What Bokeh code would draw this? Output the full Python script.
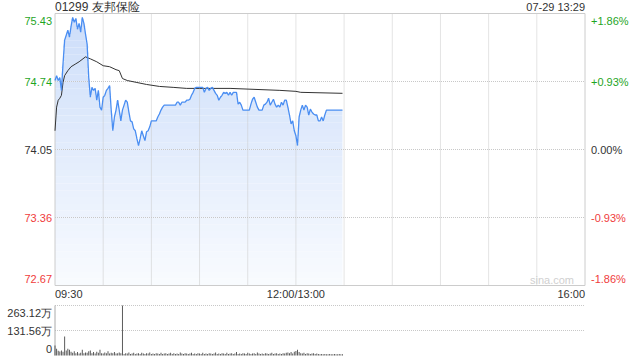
import numpy as np
from bokeh.plotting import figure
from bokeh.models import Range1d, LinearAxis, Label
from bokeh.embed import file_html
from bokeh.resources import INLINE

# ---------------- data ----------------
title_text = "01299 友邦保险"
stamp_text = "07-29 13:29"
prev_close = 74.05
price_ticks = [72.67, 73.36, 74.05, 74.74, 75.43]
session_minutes = 330
time_tick_minutes = [0, 150, 330]
time_tick_labels = ["09:30", "12:00/13:00", "16:00"]
grid_minutes = [30, 60, 90, 120, 150, 180, 210, 240, 270, 300]
vol_ticks = [0, 131.56, 263.12]
vol_labels = ["0", "131.56万", "263.12万"]

# one price per minute from 09:30 (index = session minute, 150 = 13:00)
price = [
    74.75, 74.80, 74.75, 74.78, 74.65, 74.92, 75.16, 75.21, 75.26, 75.19,
    75.30, 75.39, 75.34, 75.38, 75.27, 75.33, 75.24, 75.39, 75.33, 75.22,
    75.12, 74.78, 74.58, 74.68, 74.65, 74.67, 74.55, 74.65, 74.48, 74.45,
    74.58, 74.60, 74.65, 74.67, 74.70, 74.45, 74.24, 74.38, 74.45, 74.55,
    74.45, 74.34, 74.45, 74.50, 74.55, 74.53, 74.43, 74.34, 74.33, 74.26,
    74.24, 74.16, 74.09, 74.16, 74.24, 74.19, 74.14, 74.23, 74.24, 74.28,
    74.34, 74.34, 74.34, 74.34, 74.38, 74.41, 74.45, 74.48, 74.50, 74.50,
    74.50, 74.50, 74.50, 74.50, 74.50, 74.50, 74.53, 74.53, 74.50, 74.53,
    74.53, 74.53, 74.55, 74.55, 74.56, 74.60, 74.63, 74.67, 74.68, 74.68,
    74.68, 74.68, 74.68, 74.63, 74.67, 74.68, 74.65, 74.67, 74.68, 74.65,
    74.62, 74.60, 74.55, 74.58, 74.60, 74.63, 74.62, 74.63, 74.60, 74.63,
    74.60, 74.63, 74.63, 74.63, 74.51, 74.53, 74.50, 74.45, 74.45, 74.45,
    74.45, 74.45, 74.51, 74.56, 74.58, 74.53, 74.48, 74.45, 74.45, 74.45,
    74.50, 74.51, 74.53, 74.57, 74.50, 74.53, 74.56, 74.51, 74.48, 74.50,
    74.48, 74.53, 74.50, 74.55, 74.55, 74.48, 74.40, 74.31, 74.34, 74.24,
    74.19, 74.09, 74.38, 74.45, 74.50, 74.45, 74.50, 74.48, 74.40, 74.46,
    74.43, 74.41, 74.40, 74.40, 74.34, 74.34, 74.38, 74.34, 74.40, 74.45,
    74.45, 74.45, 74.45, 74.45, 74.45, 74.45, 74.45, 74.45, 74.45, 74.45,
]

# average-price line, read at its vertices
avg_minutes = [0, 1, 2, 3, 4, 5, 6, 8, 10, 13, 15, 19, 22, 26, 30, 34, 38, 40,
               42, 45, 51, 57, 65, 74, 82, 90, 109, 140, 150, 153, 179]
avg_values = [74.24, 74.48, 74.55, 74.57, 74.60, 74.73, 74.80, 74.85, 74.89,
              74.92, 74.94, 74.99, 74.97, 74.94, 74.90, 74.89, 74.86, 74.85,
              74.77, 74.75, 74.73, 74.71, 74.69, 74.68, 74.67, 74.67, 74.67,
              74.65, 74.64, 74.63, 74.62]

# volume per minute, in 万
volume = [
    52, 35, 25, 21, 26, 20, 100, 26, 35, 30,
    20, 15, 22, 12, 18, 10, 14, 30, 12, 16,
    14, 22, 26, 12, 18, 10, 20, 14, 30, 12,
    10, 16, 12, 22, 10, 14, 12, 18, 10, 12,
    16, 12, 263.12, 8, 12, 10, 16, 8, 10, 14,
    8, 10, 12, 8, 14, 10, 8, 12, 10, 16,
    8, 10, 8, 12, 10, 8, 14, 8, 10, 12,
    8, 10, 14, 8, 12, 8, 10, 8, 16, 10,
    8, 12, 10, 8, 10, 14, 8, 10, 8, 12,
    10, 8, 14, 8, 10, 8, 12, 10, 8, 10,
    16, 8, 10, 8, 12, 10, 8, 14, 8, 10,
    12, 8, 10, 18, 8, 10, 8, 12, 10, 8,
    14, 10, 8, 10, 12, 8, 16, 10, 8, 10,
    8, 12, 10, 8, 10, 14, 8, 10, 12, 8,
    10, 8, 12, 10, 14, 16, 12, 18, 10, 20,
    24, 30, 18, 12, 10, 14, 8, 12, 10, 8,
    10, 12, 8, 10, 8, 6, 8, 6, 8, 6,
    6, 8, 6, 6, 8, 6, 6, 8, 6, 6,
]

# ---------------- layout (pixels) ----------------
W, H = 640, 360
PX_L, PX_R = 54.5, 584.5          # plot left / right edge
PY_T, PY_B = 13.0, 285.0          # price panel top / bottom (from top)
VY_T, VY_B = 305.0, 355.0         # volume panel top / bottom (from top)

FONT = "Liberation Sans"
GREEN = "#1fa51f"
RED = "#f03c3c"
DARK = "#333333"
GRID = "#c8c8c8"
BORDER = "#cccccc"

lo, hi = price_ticks[0], price_ticks[-1]
vmax = vol_ticks[-1]

# linear maps so that the whole canvas is the frame
xs = session_minutes / (PX_R - PX_L)          # minutes per pixel
x0 = -PX_L * xs
x1 = session_minutes + (W - PX_R) * xs
ys = (hi - lo) / (PY_B - PY_T)                # price per pixel
y_top = hi + PY_T * ys
y_bot = lo - (H - PY_B) * ys
vs = vmax / (VY_B - VY_T)                     # volume per pixel
v_top = vmax + VY_T * vs
v_bot = -(H - VY_B) * vs

p = figure(width=W, height=H, output_backend="svg", toolbar_location=None,
           x_range=Range1d(x0, x1), y_range=Range1d(y_bot, y_top), title=None,
           min_border=0)
p.extra_y_ranges = {"vol": Range1d(v_bot, v_top)}
p.xaxis.visible = False
p.yaxis.visible = False
p.grid.visible = False
p.outline_line_color = None

minutes = np.arange(len(price))
price_arr = np.array(price)

# gradient-like area fill built from horizontal bands
top_c = np.array([205, 222, 250])
bot_c = np.array([250, 252, 255])
nb = 40
edges = np.linspace(lo, hi, nb + 1)
for k in range(nb):
    b0, b1 = edges[k], edges[k + 1]
    t = (b1 - lo) / (hi - lo)
    c = (bot_c + (top_c - bot_c) * t).astype(int)
    col = "#%02x%02x%02x" % tuple(c)
    y1 = np.clip(price_arr, b0, b1)
    p.varea(x=minutes, y1=y1, y2=np.full_like(y1, b0), fill_color=col)

# grid lines (dotted)
inner = price_ticks[1:-1]
p.segment(x0=[0] * len(inner), x1=[session_minutes] * len(inner), y0=inner, y1=inner,
          line_color=GRID, line_dash="1 1", line_width=1)
p.segment(x0=grid_minutes, x1=grid_minutes, y0=[lo] * len(grid_minutes),
          y1=[hi] * len(grid_minutes), line_color=GRID, line_dash="1 1", line_width=1)
# border of the price panel
p.quad(left=[0], right=[session_minutes], bottom=[lo], top=[hi], fill_color=None,
       line_color=BORDER, line_width=1)

p.line(avg_minutes, avg_values, line_color="#333333", line_width=1)
p.line(minutes, price, line_color="#4a8ef2", line_width=1.3)

# volume panel
vg = vol_ticks[1:]
p.segment(x0=[0] * len(vg), x1=[session_minutes] * len(vg), y0=vg, y1=vg,
          line_color=GRID, line_dash="1 1", line_width=1, y_range_name="vol")
p.segment(x0=[0], x1=[0], y0=[0], y1=[vmax], line_color="#aaaaaa", line_width=1,
          y_range_name="vol")
p.vbar(x=minutes, top=volume, bottom=0, width=0.6, fill_color="#555555",
       line_color=None, y_range_name="vol")

def col_for(v):
    if abs(v - prev_close) < 1e-9:
        return DARK
    return GREEN if v > prev_close else RED

EDGE = 7  # px: edge labels are pulled inside the panel
n = len(price_ticks)
for i, v in enumerate(price_ticks):
    off = 0
    if i == 0:
        off = EDGE
    elif i == n - 1:
        off = -EDGE
    yy = v + off * ys
    pct = (v - prev_close) / prev_close * 100
    if abs(pct) < 1e-6:
        pct_txt = "0.00%"
    else:
        pct_txt = ("+" if pct > 0 else "") + ("%.2f%%" % pct)
    p.add_layout(Label(x=-3 * xs, y=yy, text="%.2f" % v,
                       text_align="right", text_baseline="middle",
                       text_font=FONT, text_font_size="11px", text_color=col_for(v)))
    p.add_layout(Label(x=session_minutes + 6 * xs, y=yy, text=pct_txt,
                       text_align="left", text_baseline="middle",
                       text_font=FONT, text_font_size="11px", text_color=col_for(v)))

aligns = ["left", "center", "right"]
for m, t, a in zip(time_tick_minutes, time_tick_labels, aligns):
    p.add_layout(Label(x=m, y=lo - 8 * ys, text=t, text_align=a,
                       text_baseline="middle", text_font=FONT,
                       text_font_size="11px", text_color=DARK))

p.add_layout(Label(x=0, y=hi + 7 * ys, text=title_text, text_align="left",
                   text_baseline="middle", text_font=FONT, text_font_size="12px",
                   text_color=DARK))
p.add_layout(Label(x=session_minutes, y=hi + 7 * ys, text=stamp_text,
                   text_align="right", text_baseline="middle", text_font=FONT,
                   text_font_size="11px", text_color=DARK))
p.add_layout(Label(x=session_minutes - 11 * xs, y=lo + 6 * ys, text="sina.com",
                   text_align="right", text_baseline="middle", text_font=FONT,
                   text_font_size="11px", text_color="#d0d0d0"))

nv = len(vol_ticks)
for i, (tv, tl) in enumerate(zip(vol_ticks, vol_labels)):
    off = 0
    if i == 0:
        off = EDGE
    elif i == nv - 1:
        off = -EDGE
    p.add_layout(Label(x=-3 * xs, y=tv + off * vs, y_range_name="vol", text=tl,
                       text_align="right", text_baseline="middle", text_font=FONT,
                       text_font_size="11px", text_color=DARK))

open("out.html", "w").write(file_html(p, INLINE))
